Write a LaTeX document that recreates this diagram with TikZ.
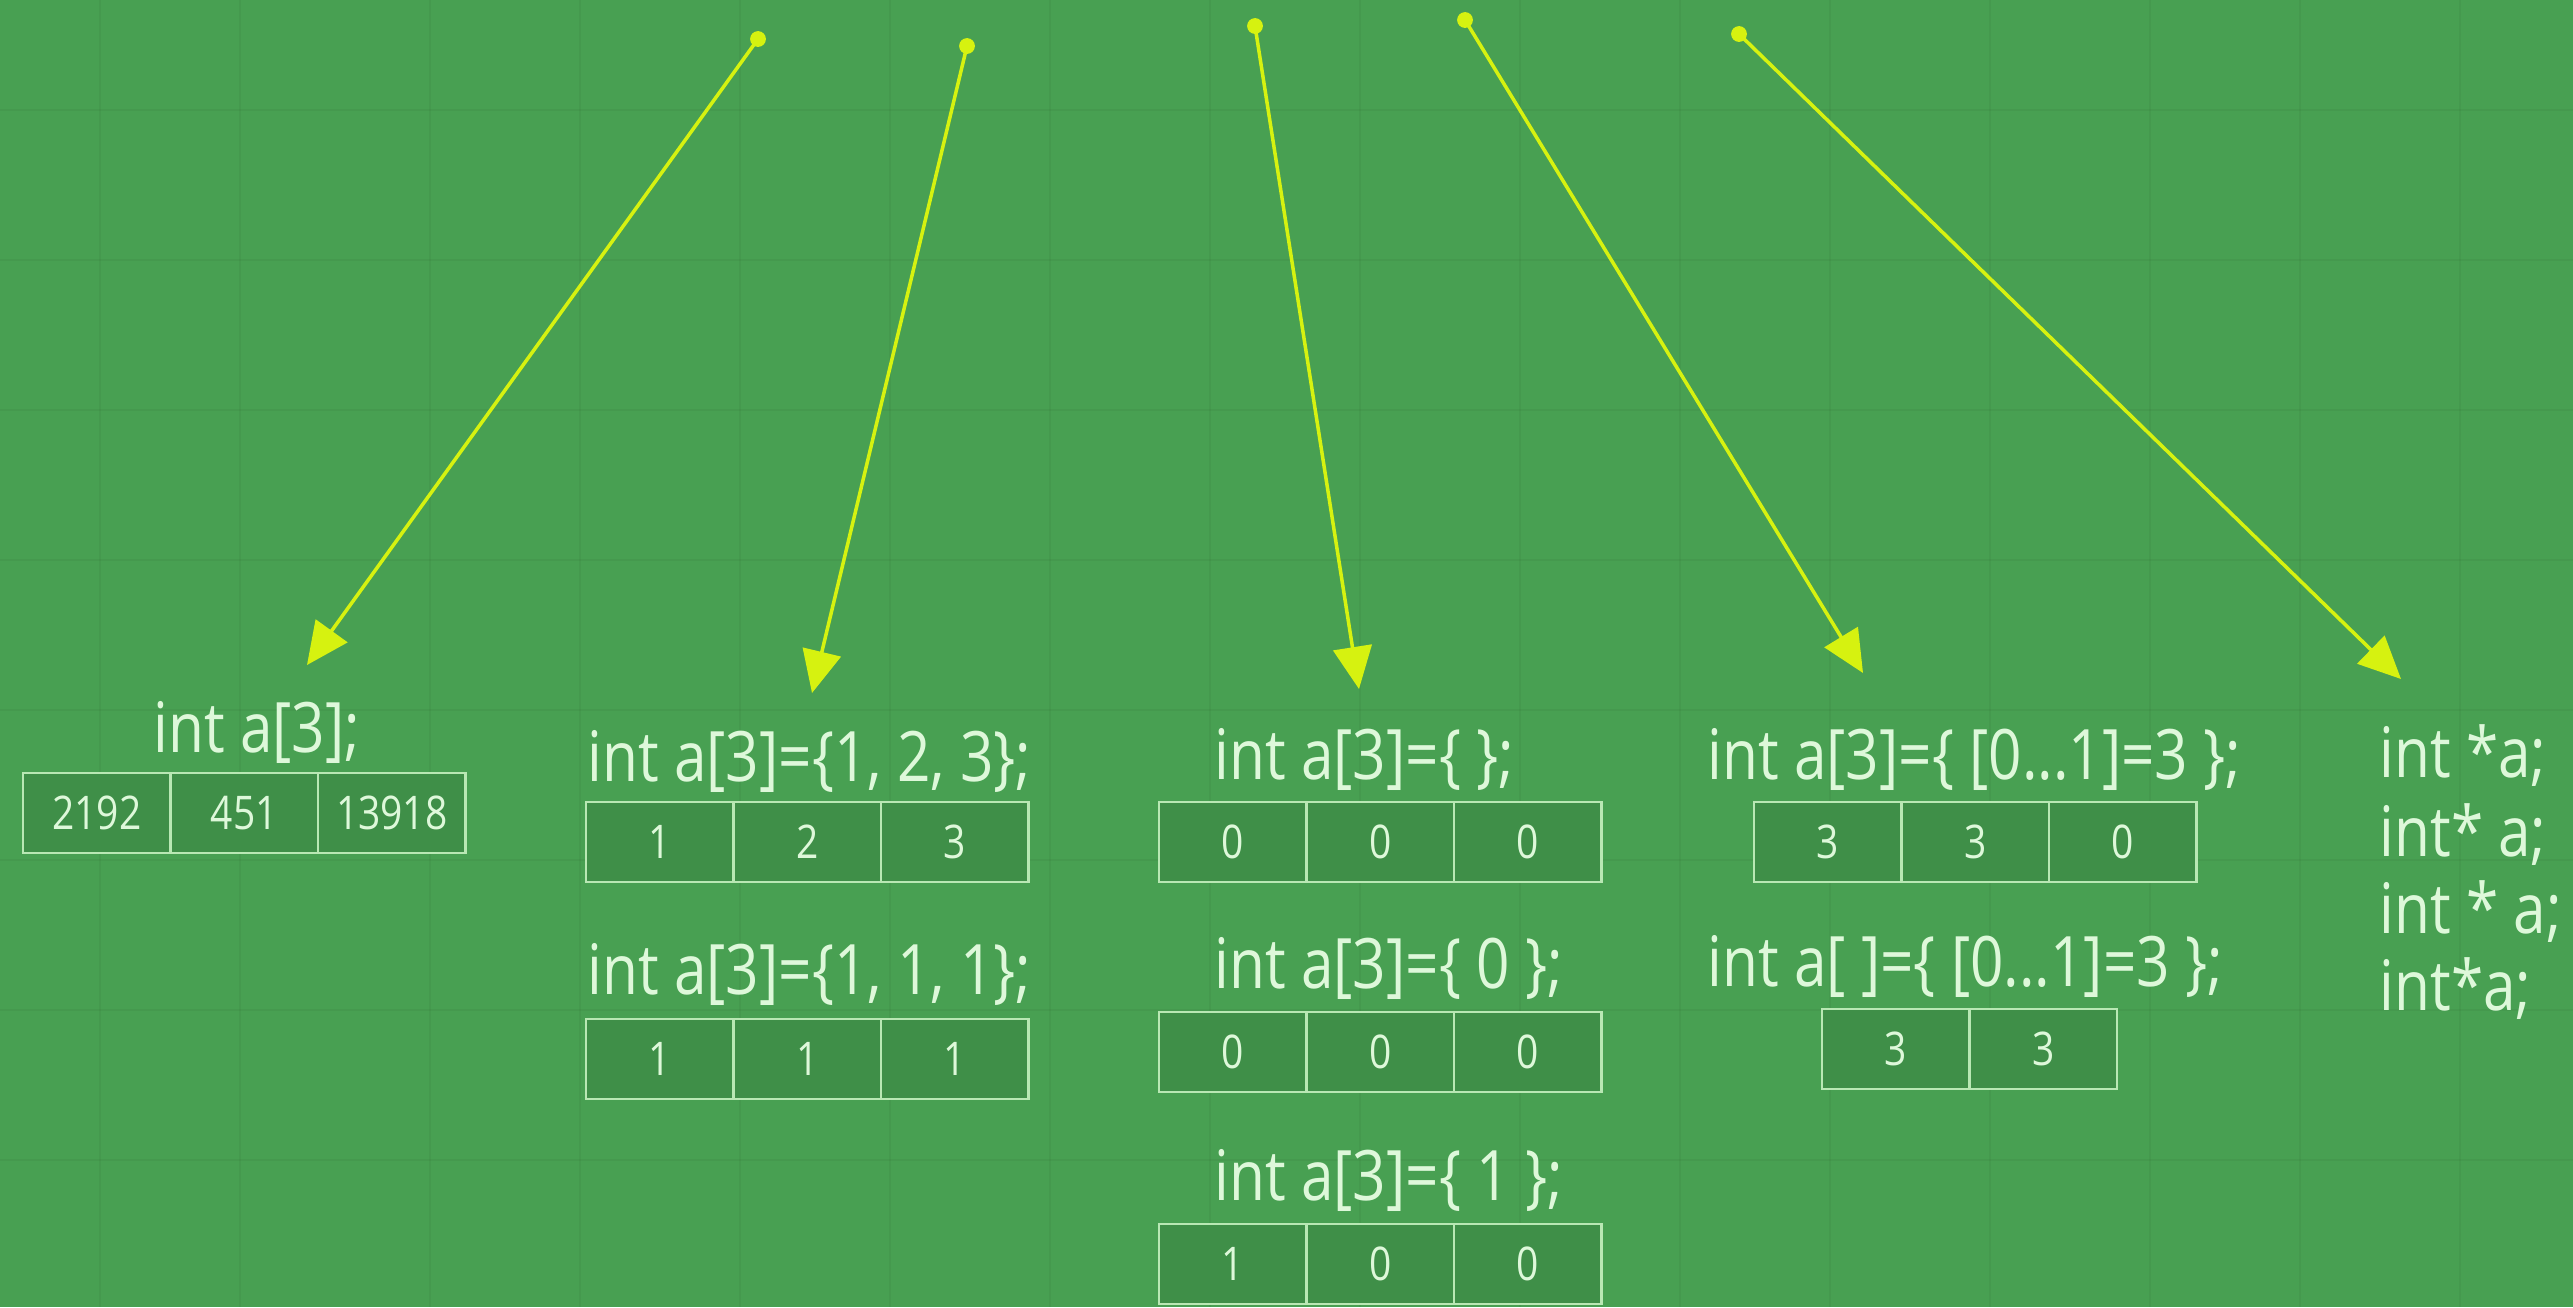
\documentclass[tikz,border=0pt]{standalone}
\usepackage{fontspec}
\setmainfont[FakeStretch=0.84]{Open Sans}
\usetikzlibrary{arrows.meta}
\definecolor{bg}{RGB}{72,160,82}
\definecolor{cellfill}{RGB}{63,143,72}
\definecolor{cellline}{RGB}{185,232,180}
\definecolor{txt}{RGB}{222,248,218}
\definecolor{arr}{RGB}{214,242,16}
\tikzset{
  cell/.style={draw=cellline, line width=0.8pt, fill=cellfill, minimum width=1.475cm,
    minimum height=0.8cm, inner sep=0pt, outer sep=0pt, text=txt, font=\fontsize{13.2}{15}\selectfont},
  code/.style={text=txt, font=\fontsize{19.8}{22}\selectfont, inner sep=0pt, anchor=base west},
  pointer/.style={draw=arr, line width=1pt, -{Triangle[length=12pt,width=11pt]}},
  dot/.style={fill=arr, draw=none, circle, minimum size=4.5pt, inner sep=0pt}
}
\newcommand\mkcell[3]{% name, prev, value
  \node[cell, anchor=west] (#1) at (#2.east) {#3};}
\begin{document}
\begin{tikzpicture}[x=1cm,y=-1cm]
\useasboundingbox (0,0) rectangle (25.73,13.07);
\fill[bg] (0,0) rectangle (25.73,13.07);
% faint background grid
\begin{scope}[draw=black, opacity=0.04, line width=0.6pt]
\foreach \x in {1.0,2.4,4.3,5.8,7.4,8.9,10.5,12.1,13.6,15.2,16.8,18.3,19.9,21.5,23.0,24.6}
  \draw (\x,0) -- (\x,13.07);
\foreach \y in {1.1,2.6,4.1,5.6,7.1,8.6,10.1,11.6}
  \draw (0,\y) -- (25.73,\y);
\end{scope}

% start dots
\node[dot] (d1) at (7.58,0.39) {};
\node[dot] (d2) at (9.67,0.46) {};
\node[dot] (d3) at (12.55,0.26) {};
\node[dot] (d4) at (14.65,0.20) {};
\node[dot] (d5) at (17.39,0.34) {};
% arrow targets
\coordinate (e1) at (3.07,6.65);
\coordinate (e2) at (8.12,6.93);
\coordinate (e3) at (13.59,6.89);
\coordinate (e4) at (18.63,6.73);
\coordinate (e5) at (24.01,6.79);
\draw[pointer] (d1.center) -- (e1);
\draw[pointer] (d2.center) -- (e2);
\draw[pointer] (d3.center) -- (e3);
\draw[pointer] (d4.center) -- (e4);
\draw[pointer] (d5.center) -- (e5);

% group 1
\node[code] (c1) at (1.53,7.52) {int a[3];};
\node[cell, anchor=north west] (g1a) at (0.23,7.73) {2192};
\mkcell{g1b}{g1a}{451}
\mkcell{g1c}{g1b}{13918}

% group 2
\node[code] (c2) at (5.87,7.81) {int a[3]=\{1, 2, 3\};};
\node[cell, anchor=north west] (g2a) at (5.86,8.02) {1};
\mkcell{g2b}{g2a}{2}
\mkcell{g2c}{g2b}{3}
\node[code] (c3) at (5.87,9.94) {int a[3]=\{1, 1, 1\};};
\node[cell, anchor=north west] (g3a) at (5.86,10.19) {1};
\mkcell{g3b}{g3a}{1}
\mkcell{g3c}{g3b}{1}

% group 3
\node[code] (c4) at (12.14,7.79) {int a[3]=\{ \};};
\node[cell, anchor=north west] (g4a) at (11.59,8.02) {0};
\mkcell{g4b}{g4a}{0}
\mkcell{g4c}{g4b}{0}
\node[code] (c5) at (12.14,9.88) {int a[3]=\{ 0 \};};
\node[cell, anchor=north west] (g5a) at (11.59,10.12) {0};
\mkcell{g5b}{g5a}{0}
\mkcell{g5c}{g5b}{0}
\node[code] (c6) at (12.14,12.0) {int a[3]=\{ 1 \};};
\node[cell, anchor=north west] (g6a) at (11.59,12.24) {1};
\mkcell{g6b}{g6a}{0}
\mkcell{g6c}{g6b}{0}

% group 4
\node[code] (c7) at (17.07,7.79) {int a[3]=\{ [0...1]=3 \};};
\node[cell, anchor=north west] (g7a) at (17.54,8.02) {3};
\mkcell{g7b}{g7a}{3}
\mkcell{g7c}{g7b}{0}
\node[code] (c8) at (17.07,9.86) {int a[ ]=\{ [0...1]=3 \};};
\node[cell, anchor=north west] (g8a) at (18.22,10.09) {3};
\mkcell{g8b}{g8a}{3}

% group 5
\node[code] (p1) at (23.79,7.77) {int *a;};
\node[code] (p2) at (23.79,8.56) {int* a;};
\node[code] (p3) at (23.79,9.33) {int * a;};
\node[code] (p4) at (23.79,10.10) {int*a;};
\end{tikzpicture}
\end{document}
